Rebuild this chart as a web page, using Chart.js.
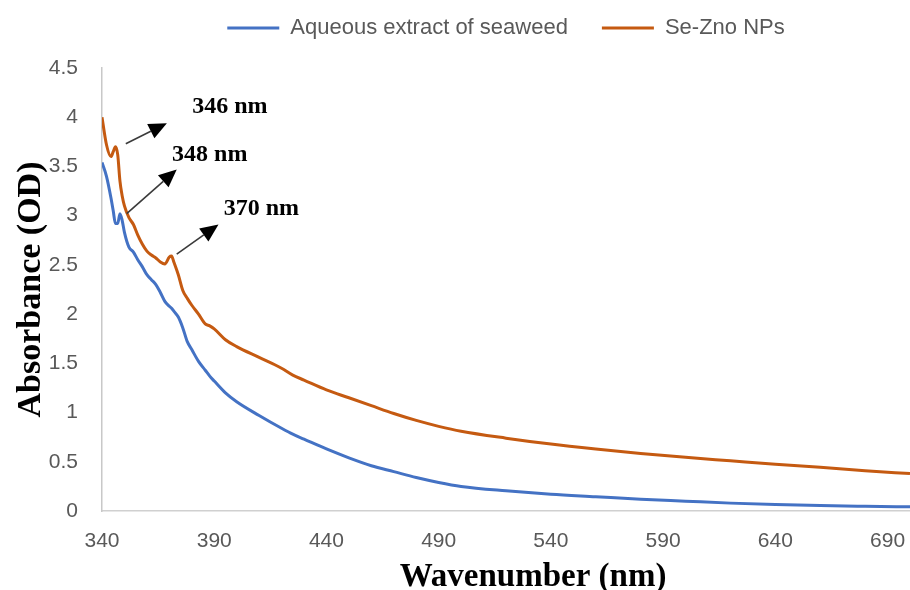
<!DOCTYPE html>
<html>
<head>
<meta charset="utf-8">
<script src="https://cdn.jsdelivr.net/npm/chart.js@4.4.0/dist/chart.umd.min.js"></script>
<style>
  html, body { margin: 0; padding: 0; background: #fff; }
  #wrap { width: 910px; height: 590px; }
</style>
</head>
<body>
<div id="wrap"><canvas id="uvChart" width="910" height="590"></canvas></div>
<script>
// wavelength (nm)
const wavelengths = [340, 342, 344, 345, 346, 347, 348, 349, 350, 352, 354, 356, 358, 360, 362, 364, 366, 368, 370, 371, 372, 374, 376, 378, 380, 383, 386, 388, 390, 395, 400, 410, 420, 425, 430, 440, 450, 460, 470, 480, 490, 500, 520, 540, 560, 580, 600, 620, 640, 660, 680, 700];

// Aqueous extract of seaweed
const seaweed = [3.54, 3.40, 3.18, 3.05, 2.92, 2.92, 3.02, 2.95, 2.83, 2.68, 2.63, 2.55, 2.48, 2.40, 2.35, 2.30, 2.22, 2.13, 2.08, 2.06, 2.03, 1.97, 1.86, 1.72, 1.64, 1.52, 1.43, 1.37, 1.32, 1.20, 1.11, 0.97, 0.84, 0.78, 0.73, 0.63, 0.54, 0.46, 0.40, 0.34, 0.29, 0.25, 0.205, 0.17, 0.145, 0.12, 0.10, 0.08, 0.065, 0.055, 0.048, 0.042];

// Se-ZnO NPs
const seZno = [4.0, 3.72, 3.60, 3.65, 3.70, 3.62, 3.35, 3.20, 3.10, 2.98, 2.91, 2.80, 2.71, 2.64, 2.60, 2.57, 2.53, 2.51, 2.58, 2.59, 2.53, 2.40, 2.24, 2.16, 2.09, 2.00, 1.90, 1.88, 1.85, 1.74, 1.67, 1.56, 1.45, 1.38, 1.33, 1.23, 1.15, 1.07, 0.99, 0.92, 0.86, 0.81, 0.74, 0.68, 0.63, 0.585, 0.545, 0.51, 0.475, 0.445, 0.41, 0.38];

const xTicks = [340, 390, 440, 490, 540, 590, 640, 690];

// peak annotations: label, label point, arrow start, arrow tip (data units)
const peakLabels = ["346 nm", "348 nm", "370 nm"];
const peakLabelAt = [[397, 4.11], [388, 3.62], [411, 3.07]];
const arrowFrom = [[350.6, 3.73], [351, 3.02], [373.3, 2.61]];
const arrowTo = [[368.9, 3.94], [373.3, 3.47], [391.9, 2.91]];

const toPoints = (ys) => wavelengths.map((x, i) => ({ x, y: ys[i] }));

const peakArrows = {
  id: "peakArrows",
  afterDatasetsDraw(chart) {
    const { ctx, scales: { x, y } } = chart;
    ctx.save();
    peakLabels.forEach((txt, i) => {
      const x0 = x.getPixelForValue(arrowFrom[i][0]);
      const y0 = y.getPixelForValue(arrowFrom[i][1]);
      const x1 = x.getPixelForValue(arrowTo[i][0]);
      const y1 = y.getPixelForValue(arrowTo[i][1]);
      const ang = Math.atan2(y1 - y0, x1 - x0);
      const headLen = 18, headW = 8;
      const bx = x1 - headLen * Math.cos(ang);
      const by = y1 - headLen * Math.sin(ang);
      ctx.strokeStyle = "#3a3a3a";
      ctx.lineWidth = 1.6;
      ctx.beginPath();
      ctx.moveTo(x0, y0);
      ctx.lineTo(bx, by);
      ctx.stroke();
      ctx.fillStyle = "#000";
      ctx.beginPath();
      ctx.moveTo(x1, y1);
      ctx.lineTo(bx + headW * Math.sin(ang), by - headW * Math.cos(ang));
      ctx.lineTo(bx - headW * Math.sin(ang), by + headW * Math.cos(ang));
      ctx.closePath();
      ctx.fill();

      ctx.font = "bold 24px 'Liberation Serif', 'Times New Roman', serif";
      ctx.textAlign = "center";
      ctx.textBaseline = "middle";
      ctx.fillText(txt, x.getPixelForValue(peakLabelAt[i][0]), y.getPixelForValue(peakLabelAt[i][1]));
    });
    ctx.restore();
  },
};

// x-axis title, centred a bit right of the plot like the original
const xAxisTitle = {
  id: "xAxisTitle",
  afterDraw(chart) {
    const { ctx, chartArea } = chart;
    ctx.save();
    ctx.font = "bold 33px 'Liberation Serif', 'Times New Roman', serif";
    ctx.fillStyle = "#000";
    ctx.textAlign = "center";
    ctx.textBaseline = "middle";
    ctx.fillText("Wavenumber (nm)", (chartArea.left + chartArea.right) / 2 + 27, chartArea.bottom + 66);
    ctx.restore();
  },
};

const ctx = document.getElementById("uvChart").getContext("2d");
new Chart(ctx, {
  type: "line",
  data: {
    datasets: [
      {
        label: "Aqueous extract of seaweed",
        data: toPoints(seaweed),
        borderColor: "#4472C4",
        backgroundColor: "#4472C4",
        borderWidth: 3,
        pointRadius: 0,
        cubicInterpolationMode: "monotone",
      },
      {
        label: "Se-Zno NPs",
        data: toPoints(seZno),
        borderColor: "#C55A11",
        backgroundColor: "#C55A11",
        borderWidth: 3,
        pointRadius: 0,
        cubicInterpolationMode: "monotone",
      },
    ],
  },
  options: {
    responsive: false,
    animation: false,
    layout: { padding: { top: -17, right: 0, left: 0, bottom: 0 } },
    plugins: {
      legend: {
        position: "top",
        fullSize: false,
        labels: {
          boxWidth: 52,
          boxHeight: 3,
          padding: 34,
          color: "#595959",
          font: { family: "'Liberation Sans', Arial, sans-serif", size: 22 },
          generateLabels(chart) {
            return Chart.defaults.plugins.legend.labels.generateLabels(chart).map((l) => ({ ...l, lineWidth: 0 }));
          },
        },
      },
      // blank spacer between legend and plot area
      title: {
        display: true,
        text: " ",
        position: "top",
        weight: 500,
        padding: { top: 0, bottom: 9 },
        font: { size: 10, lineHeight: 1 },
      },
      tooltip: { enabled: false },
    },
    scales: {
      x: {
        type: "linear",
        min: 340,
        max: 700,
        afterBuildTicks(scale) {
          scale.ticks = xTicks.map((v) => ({ value: v }));
        },
        afterFit(scale) {
          scale.height = 79;
          scale.paddingLeft = 0;
          scale.paddingRight = 0;
        },
        grid: { display: false },
        border: { display: true, color: "#d0d0d0", width: 1.5 },
        ticks: {
          color: "#595959",
          padding: 10,
          font: { family: "'Liberation Sans', Arial, sans-serif", size: 21 },
          callback: (v) => String(v),
        },
      },
      y: {
        min: 0,
        max: 4.5,
        afterFit(scale) {
          scale.width = 102;
        },
        ticks: {
          stepSize: 0.5,
          color: "#595959",
          padding: 16,
          font: { family: "'Liberation Sans', Arial, sans-serif", size: 21 },
          callback: (v) => String(v),
        },
        grid: { display: false },
        border: { display: true, color: "#c8c8c8", width: 1.5 },
        title: {
          display: true,
          text: "Absorbance (OD)",
          color: "#000",
          padding: { top: 14, bottom: 0 },
          font: { family: "'Liberation Serif', 'Times New Roman', serif", size: 34, weight: "bold", lineHeight: 1 },
        },
      },
    },
  },
  plugins: [peakArrows, xAxisTitle],
});
</script>
</body>
</html>
